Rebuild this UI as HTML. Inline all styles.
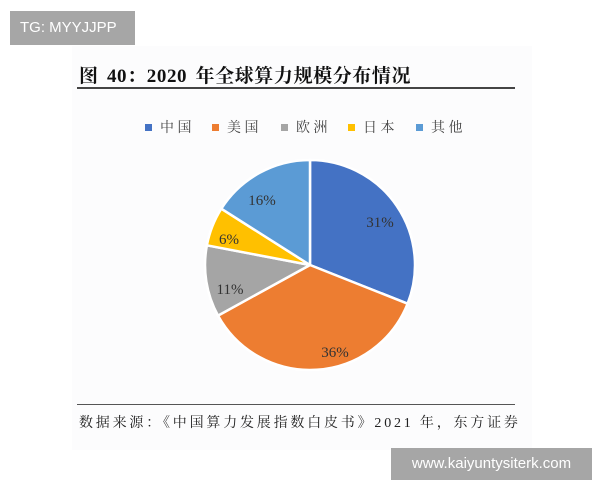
<!DOCTYPE html>
<html><head><meta charset="utf-8"><style>
body{margin:0;width:600px;height:480px;background:#fff;overflow:hidden;position:relative;font-family:"Liberation Serif","Noto Serif CJK SC",serif;}
.box{position:absolute;background:#a6a6a6;color:#fff;font-family:"Liberation Sans",sans-serif;}
</style></head><body>
<div style="position:absolute;left:72px;top:46px;width:460px;height:404px;background:#fcfcfd"></div>
<div class="box" style="left:10px;top:11px;width:125px;height:34px;font-size:15px;line-height:34px;padding-left:10px;box-sizing:border-box">TG: MYYJJPP</div>
<div style="position:absolute;left:79px;top:61px;font-size:19px;font-weight:bold;color:#111;white-space:nowrap;letter-spacing:0.6px;word-spacing:3px">图 40：2020 年全球算力规模分布情况</div>
<div style="position:absolute;left:77px;top:87px;width:438px;height:2px;background:#444"></div>
<svg style="position:absolute;left:0;top:0" width="600" height="480">
<g font-family="Liberation Serif, Noto Serif CJK SC, serif" font-size="14" fill="#444">
<rect x="145" y="124" width="7" height="7" fill="#4472C4"/><text x="160" y="132">中 国</text>
<rect x="212" y="124" width="7" height="7" fill="#ED7D31"/><text x="227" y="132">美 国</text>
<rect x="281" y="124" width="7" height="7" fill="#A5A5A5"/><text x="296" y="132">欧 洲</text>
<rect x="348" y="124" width="7" height="7" fill="#FFC000"/><text x="363" y="132">日 本</text>
<rect x="416" y="124" width="7" height="7" fill="#5B9BD5"/><text x="431" y="132">其 他</text>
</g>
<g stroke="#fff" stroke-width="2.5" stroke-linejoin="round">
<path d="M310,265 L310,160 A105,105 0 0 1 407.6,303.7 Z" fill="#4472C4"/>
<path d="M310,265 L407.6,303.7 A105,105 0 0 1 218,315.6 Z" fill="#ED7D31"/>
<path d="M310,265 L218,315.6 A105,105 0 0 1 206.9,245.3 Z" fill="#A5A5A5"/>
<path d="M310,265 L206.9,245.3 A105,105 0 0 1 221.3,208.7 Z" fill="#FFC000"/>
<path d="M310,265 L221.3,208.7 A105,105 0 0 1 310,160 Z" fill="#5B9BD5"/>
</g>
<g font-family="Liberation Serif, serif" font-size="15" fill="#333" text-anchor="middle">
<text x="380" y="227">31%</text>
<text x="335" y="357">36%</text>
<text x="230" y="294">11%</text>
<text x="229" y="244">6%</text>
<text x="262" y="205">16%</text>
</g>
</svg>
<div style="position:absolute;left:77px;top:404px;width:438px;height:1px;background:#555"></div>
<div style="position:absolute;left:79px;top:412px;font-size:14px;color:#222;white-space:nowrap;letter-spacing:2.8px">数据来源：《中国算力发展指数白皮书》2021 年，东方证券</div>
<div class="box" style="left:391px;top:448px;width:201px;height:32px;font-size:15px;line-height:32px;text-align:center">www.kaiyuntysiterk.com</div>
</body></html>
